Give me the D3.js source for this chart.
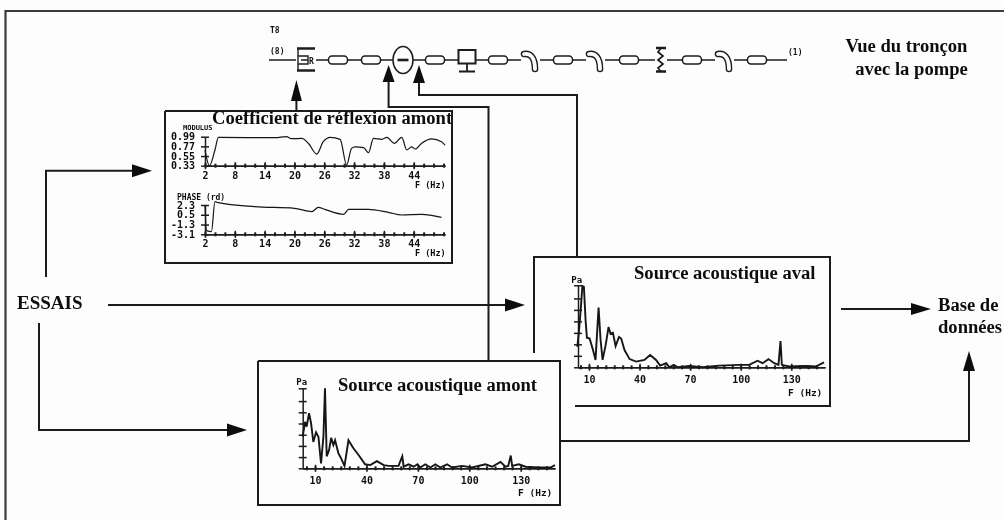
<!DOCTYPE html>
<html>
<head>
<meta charset="utf-8">
<title>Base de données</title>
<script src="https://cdn.jsdelivr.net/npm/d3@7"></script>
<style>
html, body { margin: 0; padding: 0; background: #fdfdfd; }
svg { display: block; }
.titre { font-family: "Liberation Serif", serif; font-weight: bold; font-size: 18.6px; fill: #111; }
.mono { font-family: "DejaVu Sans Mono", monospace; font-weight: bold; font-size: 10px; fill: #111; }
.axis path, .axis line { stroke: #1c1c1c; stroke-width: 1.5; }
.axis text { font-family: "DejaVu Sans Mono", monospace; font-weight: bold; font-size: 10px; fill: #111; }
</style>
</head>
<body>
<svg id="chart" width="1004" height="520"></svg>
<script>
// valeurs
var moduleFreq = [2, 2.9, 4, 4.7, 16.1, 18.4, 19.4, 21.5, 22.8, 24.5, 25.8, 27.2, 29.2, 30.5, 31.5, 32.2, 33.9, 34.9, 35.9, 37.6, 38.6, 40.1, 41.6, 42.6, 43.6, 44.3, 45.6, 47.6, 49.6, 50.3];
var moduleVal = [0.687, 0.33, 0.687, 0.975, 0.967, 0.99, 0.945, 0.95, 0.84, 0.595, 0.876, 0.975, 0.93, 0.345, 0.725, 0.76, 0.74, 0.626, 0.95, 0.93, 0.975, 0.84, 0.975, 0.687, 0.76, 0.71, 0.84, 0.94, 0.876, 0.8];
var phaseFreq = [2, 2.3, 3.3, 4, 4.7, 12, 20, 23.5, 24.8, 26.1, 29.9, 30.9, 33.6, 34.9, 38.9, 41.6, 45.6, 49.6];
var phaseVal = [2.3, -2.42, -2.61, 2.92, 2.73, 1.99, 1.69, 1.08, 1.87, 1.5, 0.58, 1.5, 1.5, 1.5, 0.95, 0.46, 0.58, 0.03];
var avalFreq = [3.1, 4.1, 5.1, 6.1, 7, 8, 8.8, 10.4, 12.4, 13.9, 15.7, 16.9, 18.1, 19.9, 21.6, 22.8, 24.2, 25.8, 27.8, 29.1, 31.1, 34.1, 38, 42.9, 46.3, 49.8, 52.2, 55.8, 57.7, 60.3, 62.7, 69.6, 77.5, 87.3, 99.2, 105, 110, 113, 116.5, 119.9, 122.4, 123.6, 124.4, 128.7, 138.6, 144.5, 149.4];
var avalVal = [2.5, 4.5, 7, 9.9, 9.8, 5.7, 3.6, 3.5, 2.1, 0.9, 7.3, 3.3, 0.9, 2.7, 4.9, 4.1, 4.2, 2.6, 3.7, 3.5, 2.1, 1, 0.7, 0.9, 1.5, 0.9, 0.2, 0.5, 0, 0.3, 0, 0.16, 0, 0.2, 0.3, 0.3, 0.8, 0.5, 1, 0.5, 0.3, 3.2, 0.3, 0.1, 0.16, 0.1, 0.6];
var amontFreq = [2.8, 4.2, 5.1, 6.5, 7.7, 9, 10.6, 12, 13.5, 14.9, 15.8, 16.8, 18.2, 19.4, 20.7, 21.7, 23.6, 25.2, 27.2, 29.5, 32.4, 35.3, 39.2, 42.2, 46.1, 50, 52.9, 58.7, 60.9, 61.7, 64.6, 67.5, 69.8, 71.4, 74.3, 77.3, 80.2, 83.1, 87, 89.9, 95.8, 101.6, 109.4, 113.3, 118.2, 121.1, 122.7, 124.2, 125, 128.9, 132.8, 140.6, 147.4, 150];
var amontVal = [4, 5.8, 5.2, 6.9, 5.6, 3.3, 4.5, 3.9, 0.6, 4, 10, 1.5, 2.3, 3.8, 2.9, 3.5, 1.9, 1.25, 0.3, 3.5, 2.5, 1.7, 0.5, 0.4, 0.9, 0.4, 0.3, 0.3, 1.5, 0.2, 0.5, 0.2, 0.5, 0.1, 0.5, 0.1, 0.5, 0.1, 0.5, 0.1, 0.3, 0.1, 0.5, 0.2, 0.8, 0.2, 0.3, 1.6, 0.3, 0.5, 0.2, 0.1, 0.1, 0.4];

var coefTicks = [2, 8, 14, 20, 26, 32, 38, 44];
var moduleTicks = [0.33, 0.55, 0.77, 0.99];
var moduleLabels = ['0.33', '0.55', '0.77', '0.99'];
var phaseTicks = [-3.1, -1.3, 0.5, 2.3];
var phaseLabels = ['-3.1', '-1.3', '0.5', '2.3'];
var sourceTicks = [10, 40, 70, 100, 130];
var paTicks = [0, 1.4, 2.8, 4.2, 5.6, 7, 8.4, 10];

var pipeKinds = ['vanne', 'tube', 'tube', 'pompe', 'tube', 'ecran', 'tube', 'coude', 'tube', 'coude', 'tube', 'soufflet', 'tube', 'coude', 'tube'];
var pipeCentres = [306, 338, 371, 403, 435, 467, 498, 530, 563, 595, 629, 661, 692, 724, 757];

var INK = '#1c1c1c';
var PAPER = '#fdfdfd';
var svg = d3.select('#chart');

var defs = svg.append('defs');
defs.append('filter').attr('id', 'scan')
    .attr('x', '-2%').attr('y', '-2%').attr('width', '104%').attr('height', '104%')
    .append('feGaussianBlur').attr('stdDeviation', 0.45);

var root = svg.append('g').attr('filter', 'url(#scan)');

function poly(points, width, color) {
    return root.append('path')
        .attr('d', d3.line()(points))
        .attr('fill', 'none')
        .attr('stroke', color || INK)
        .attr('stroke-width', width || 2);
}

// trait + pointe au dernier point
function arrow(points, headLen, headHalf) {
    var n = points.length;
    var a = points[n - 2];
    var b = points[n - 1];
    var d = Math.sqrt((b[0] - a[0]) * (b[0] - a[0]) + (b[1] - a[1]) * (b[1] - a[1]));
    var ux = (b[0] - a[0]) / d;
    var uy = (b[1] - a[1]) / d;
    var base = [b[0] - ux * headLen, b[1] - uy * headLen];
    poly(points.slice(0, n - 1).concat([base]), 2);
    root.append('path')
        .attr('d', d3.line()([
            b,
            [base[0] - uy * headHalf, base[1] + ux * headHalf],
            [base[0] + uy * headHalf, base[1] - ux * headHalf]
        ]) + 'Z')
        .attr('fill', '#111');
}

function label(x, y, txt, cls, anchor) {
    return root.append('text')
        .attr('class', cls)
        .attr('x', x)
        .attr('y', y)
        .attr('text-anchor', anchor || 'start')
        .text(txt);
}

function plot(opts) {
    var x = d3.scaleLinear().domain(opts.xDomain).range(opts.xRange);
    var y = d3.scaleLinear().domain(opts.yDomain).range(opts.yRange);
    var g = root.append('g');

    var minor = g.append('g').attr('class', 'axis')
        .attr('transform', 'translate(0,' + opts.baseline + ')')
        .call(d3.axisBottom(x).tickValues(d3.range(opts.minorStart, opts.xDomain[1], opts.minorStep)).tickSize(0).tickFormat(''));
    minor.selectAll('.tick line').attr('y1', -2).attr('y2', 2).style('stroke-width', 2);

    var xAxis = g.append('g').attr('class', 'axis')
        .attr('transform', 'translate(0,' + opts.baseline + ')')
        .call(d3.axisBottom(x).tickValues(opts.xTicks).tickSize(0).tickPadding(opts.xPad).tickFormat(d3.format('d')));
    xAxis.selectAll('.tick line').attr('y1', -3.5).attr('y2', 3.5);

    var yAxis = g.append('g').attr('class', 'axis')
        .attr('transform', 'translate(' + opts.xRange[0] + ',0)')
        .call(d3.axisLeft(y).tickValues(opts.yTicks).tickSize(0).tickPadding(opts.yPad)
            .tickFormat(function (d, i) { return opts.yLabels ? opts.yLabels[i] : ''; }));
    yAxis.selectAll('.tick line').attr('x1', -4).attr('x2', 4);

    g.append('path')
        .datum(opts.freq)
        .attr('d', d3.line()
            .curve(opts.curve || d3.curveLinear)
            .x(function (d) { return x(d); })
            .y(function (d, i) { return y(opts.val[i]); }))
        .attr('fill', 'none')
        .attr('stroke', '#151515')
        .attr('stroke-width', opts.lineWidth);
}

// cadre general, ouvert en bas et a droite
poly([[5.5, 520], [5.5, 11], [1004, 11]], 2.2, '#3a3a3a');

// cadres des courbes
poly([[165, 111], [452, 111], [452, 263], [165, 263], [165, 111]], 2);
poly([[534, 353], [534, 257], [830, 257], [830, 406], [575, 406]], 2);
poly([[258, 361], [560, 361], [560, 505], [258, 505], [258, 361]], 2);

// fleches
arrow([[296.4, 111], [296.4, 80]], 21, 5.5);
arrow([[488.5, 361], [488.5, 107], [388.6, 107], [388.6, 65]], 17, 6);
arrow([[577, 257], [577, 95], [419, 95], [419, 65]], 18, 6);
arrow([[46, 277], [46, 170.7], [152, 170.7]], 20, 6.5);
arrow([[108, 305], [525, 305]], 20, 6.5);
arrow([[39, 323], [39, 430], [247, 430]], 20, 6.5);
arrow([[841, 309], [931, 309]], 20, 6);
arrow([[560, 441], [969, 441], [969, 351]], 20, 6);

// troncon
poly([[269, 60], [787, 60]], 1.4);
pipeKinds.forEach(function (kind, i) {
    var cx = pipeCentres[i];
    var g = root.append('g').attr('transform', 'translate(' + cx + ',60)')
        .attr('fill', 'none').attr('stroke', INK).attr('stroke-width', 1.5);
    if (kind === 'tube') {
        g.append('rect').attr('x', -9.5).attr('y', -4).attr('width', 19).attr('height', 8)
            .attr('rx', 3.5).attr('fill', PAPER);
    } else if (kind === 'vanne') {
        g.append('rect').attr('x', -10).attr('y', -12).attr('width', 20).attr('height', 24)
            .attr('fill', PAPER).attr('stroke', 'none');
        g.append('path').attr('d', 'M-9,-11.5H9M-9,10.5H9').attr('stroke-width', 2.6);
        g.append('path').attr('d', 'M-8,-11V10M-8,-4H2V4H-8M-5,0H2').attr('stroke-width', 1.4);
        g.append('text').attr('x', 3).attr('y', 3.5).attr('class', 'mono').attr('stroke', 'none')
            .style('font-size', '8px').text('R');
    } else if (kind === 'pompe') {
        g.append('ellipse').attr('rx', 10).attr('ry', 13.5).attr('fill', PAPER);
        g.append('path').attr('d', 'M-5.5,0H5.5').attr('stroke-width', 2.6);
    } else if (kind === 'ecran') {
        g.append('rect').attr('x', -8.5).attr('y', -10).attr('width', 17).attr('height', 13.5).attr('fill', PAPER).attr('stroke-width', 2);
        g.append('path').attr('d', 'M0,3.5V11M-8,11.5H8').attr('stroke-width', 1.8);
    } else if (kind === 'coude') {
        var bend = 'M-6,-6C0,-7 5,-3 5,9';
        g.append('rect').attr('x', -9).attr('y', -11).attr('width', 19).attr('height', 24).attr('fill', PAPER).attr('stroke', 'none');
        g.append('path').attr('d', bend).attr('stroke-width', 6.6).attr('stroke-linecap', 'round');
        g.append('path').attr('d', bend).attr('stroke', PAPER).attr('stroke-width', 3.8).attr('stroke-linecap', 'round');
    } else if (kind === 'soufflet') {
        g.append('rect').attr('x', -6).attr('y', -12).attr('width', 12).attr('height', 24).attr('fill', PAPER).attr('stroke', 'none');
        g.append('path').attr('d', 'M-5,-12H5M-5,11.5H5').attr('stroke-width', 2.6);
        g.append('path').attr('d', 'M0,-12L-3,-8L2,-4L-3,0L2,4L-3,8L0,12').attr('stroke-width', 1.7);
    }
});
label(270, 33, 'T8', 'mono').style('font-size', '8px');
label(270, 54, '(8)', 'mono').style('font-size', '8px');
label(788, 55, '(1)', 'mono').style('font-size', '8px');

// coefficient de reflexion
plot({
    freq: moduleFreq, val: moduleVal, xDomain: [2, 50.3], xRange: [205, 445],
    yDomain: [0.33, 0.99], yRange: [165.7, 136.7], baseline: 165.7,
    xTicks: coefTicks, yTicks: moduleTicks, yLabels: moduleLabels,
    minorStart: 2, minorStep: 2, xPad: 6, yPad: 10, lineWidth: 1.2,
    curve: d3.curveMonotoneX
});
plot({
    freq: phaseFreq, val: phaseVal, xDomain: [2, 50.3], xRange: [205, 445],
    yDomain: [-3.1, 2.3], yRange: [234.3, 205], baseline: 234.3,
    xTicks: coefTicks, yTicks: phaseTicks, yLabels: phaseLabels,
    minorStart: 2, minorStep: 2, xPad: 6, yPad: 10, lineWidth: 1.2,
    curve: d3.curveMonotoneX
});
label(183, 130, 'MODULUS', 'mono').style('font-size', '7px');
label(177, 199.5, 'PHASE (rd)', 'mono').style('font-size', '8px');
label(415, 188, 'F (Hz)', 'mono').style('font-size', '8.5px');
label(415, 256, 'F (Hz)', 'mono').style('font-size', '8.5px');

// sources acoustiques
plot({
    freq: avalFreq, val: avalVal, xDomain: [3.5, 150], xRange: [578, 825],
    yDomain: [0, 10], yRange: [367.3, 285.3], baseline: 367.3,
    xTicks: sourceTicks, yTicks: paTicks,
    minorStart: 5, minorStep: 5, xPad: 9, yPad: 0, lineWidth: 1.9
});
plot({
    freq: amontFreq, val: amontVal, xDomain: [2.8, 150], xRange: [302.7, 555],
    yDomain: [0, 10], yRange: [468.3, 388.3], baseline: 468.3,
    xTicks: sourceTicks, yTicks: paTicks,
    minorStart: 5, minorStep: 5, xPad: 9, yPad: 0, lineWidth: 1.9
});
label(576.7, 283, 'Pa', 'mono', 'middle').style('font-size', '9px');
label(301.7, 385, 'Pa', 'mono', 'middle').style('font-size', '9px');
label(788, 396, 'F (Hz)', 'mono').style('font-size', '9.5px');
label(518, 496, 'F (Hz)', 'mono').style('font-size', '9.5px');

// titres
label(212, 124, 'Coefficient de réflexion amont', 'titre');
label(634, 279, 'Source acoustique aval', 'titre');
label(338, 391, 'Source acoustique amont', 'titre');
label(906.5, 52, 'Vue du tronçon', 'titre', 'middle');
label(911.5, 75, 'avec la pompe', 'titre', 'middle');
label(17, 309, 'ESSAIS', 'titre').style('font-size', '19px');
label(938, 311, 'Base de', 'titre');
label(938, 333, 'données', 'titre');
</script>
</body>
</html>
